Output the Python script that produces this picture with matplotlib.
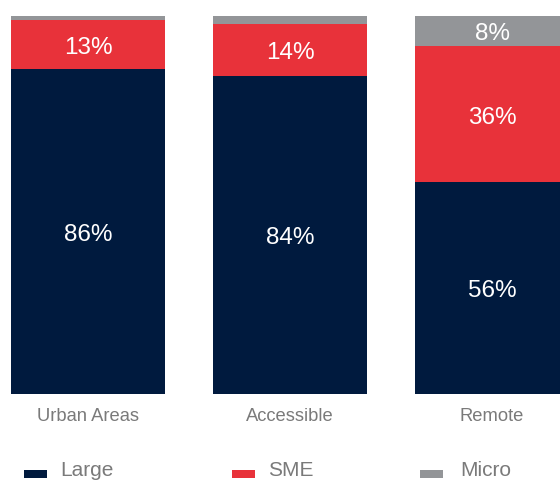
import matplotlib
matplotlib.use("Agg")
import matplotlib.pyplot as plt
from matplotlib.patches import Rectangle

categories = ["Urban Areas", "Accessible", "Remote"]
series_names = ["Large", "SME", "Micro"]
large = [86, 84, 56]
sme = [13, 14, 36]
micro = [1, 2, 8]
colors = ["#001A3E", "#E8323A", "#939598"]

plt.rcParams['font.family'] = ['Liberation Sans', 'DejaVu Sans']

fig = plt.figure(figsize=(5.6, 4.8), dpi=100)
ax = fig.add_axes([0, 86.5 / 480, 1, 377.5 / 480])

x = list(range(len(categories)))
width = 0.762
series = [large, sme, micro]
bottoms = [0] * len(categories)
for vals, col in zip(series, colors):
    ax.bar(x, vals, width=width, bottom=bottoms, color=col, linewidth=0)
    for xi, v, b in zip(x, vals, bottoms):
        if v >= 5:
            ax.text(xi, b + v / 2 - 0.9, f"{v}%", ha="center", va="center",
                    color="white", fontsize=17.5)
    bottoms = [b + v for b, v in zip(bottoms, vals)]

ax.set_xlim(-88 / 202, (560 - 88) / 202)
ax.set_ylim(0, 100)
ax.axis("off")

for xi, c in zip(x, categories):
    ax.text(xi, -6.1, c, ha="center", va="center", color="#7A7A7A",
            fontsize=13.2, clip_on=False)

# legend
leg_marker_x = [24, 232, 420]
leg_text_x = [60, 268, 460]
for mx, tx, name, col in zip(leg_marker_x, leg_text_x, series_names, colors):
    fig.add_artist(Rectangle((mx / 560, (480 - 478) / 480), 23 / 560, 8 / 480,
                             transform=fig.transFigure, color=col, linewidth=0))
    fig.text(tx / 560, (480 - 470.5) / 480, name, ha="left", va="center",
             color="#7A7A7A", fontsize=15)

fig.savefig("out.png", dpi=100)
